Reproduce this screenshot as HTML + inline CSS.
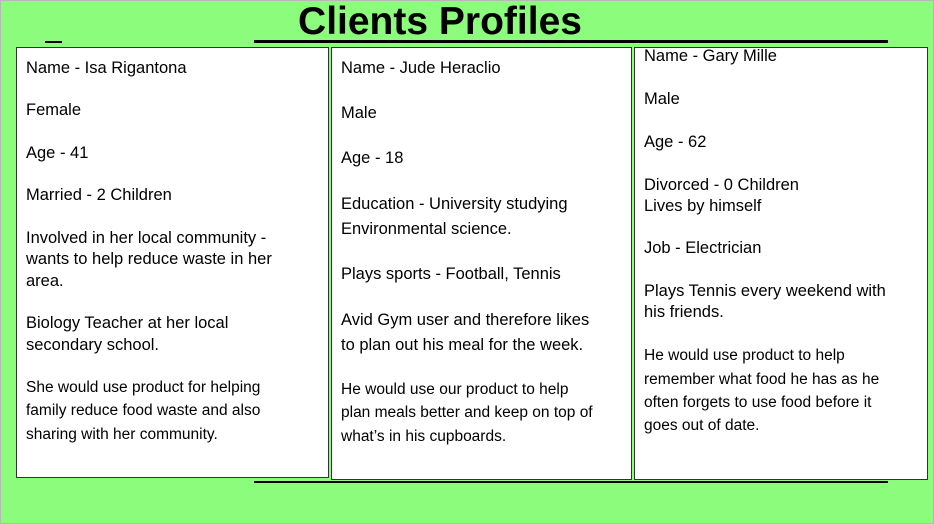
<!DOCTYPE html>
<html><head><meta charset="utf-8"><style>
body{margin:0;width:934px;height:524px;overflow:hidden;font-family:"Liberation Sans",sans-serif}
#slide{position:absolute;left:0;top:0;width:934px;height:524px;background:#8cfc7c}
#frame{position:absolute;left:0;top:0;width:934px;height:524px;box-sizing:border-box;border:1px solid #b8b8b8}
.box{position:absolute;background:#fff;border:1px solid #333;box-sizing:border-box}
.l{position:absolute;white-space:nowrap;font-size:16.5px;line-height:20px;color:#000;transform:translateY(-10px)}
.s{font-size:15.5px}
.rule{position:absolute;background:#000}
</style></head><body>
<div id="slide">
<div id="frame"></div>
<div style="position:absolute;left:0;width:880px;top:-1px;text-align:center;font-weight:bold;font-size:39px;line-height:46px">Clients Profiles</div>
<div class="rule" style="left:45px;top:41px;width:17px;height:2px"></div>
<div class="rule" style="left:254px;top:40px;width:634px;height:3px"></div>
<div class="rule" style="left:254px;top:481px;width:634px;height:2px"></div>

<div class="box" style="left:16px;top:47px;width:313px;height:431px"></div>
<div class="box" style="left:331px;top:47px;width:301px;height:433px"></div>
<div class="box" style="left:634px;top:47px;width:294px;height:433px"></div>

<div>
<div class="l" style="left:26px;top:68px">Name - Isa Rigantona</div>
<div class="l" style="left:26px;top:110px">Female</div>
<div class="l" style="left:26px;top:153px">Age - 41</div>
<div class="l" style="left:26px;top:195px">Married - 2 Children</div>
<div class="l" style="left:26px;top:238px">Involved in her local community -</div>
<div class="l" style="left:26px;top:259px">wants to help reduce waste in her</div>
<div class="l" style="left:26px;top:281px">area.</div>
<div class="l" style="left:26px;top:323px">Biology Teacher at her local</div>
<div class="l" style="left:26px;top:345px">secondary school.</div>
<div class="l s" style="left:26px;top:388px">She would use product for helping</div>
<div class="l s" style="left:26px;top:411px">family reduce food waste and also</div>
<div class="l s" style="left:26px;top:435px">sharing with her community.</div>
</div>

<div>
<div class="l" style="left:341px;top:68px">Name - Jude Heraclio</div>
<div class="l" style="left:341px;top:113px">Male</div>
<div class="l" style="left:341px;top:158px">Age - 18</div>
<div class="l" style="left:341px;top:204px">Education - University studying</div>
<div class="l" style="left:341px;top:229px">Environmental science.</div>
<div class="l" style="left:341px;top:274px">Plays sports - Football, Tennis</div>
<div class="l" style="left:341px;top:320px">Avid Gym user and therefore likes</div>
<div class="l" style="left:341px;top:345px">to plan out his meal for the week.</div>
<div class="l s" style="left:341px;top:390px">He would use our product to help</div>
<div class="l s" style="left:341px;top:413px">plan meals better and keep on top of</div>
<div class="l s" style="left:341px;top:437px">what’s in his cupboards.</div>
</div>

<div>
<div class="l" style="left:644px;top:56px">Name - Gary Mille</div>
<div class="l" style="left:644px;top:99px">Male</div>
<div class="l" style="left:644px;top:142px">Age - 62</div>
<div class="l" style="left:644px;top:185px">Divorced - 0 Children</div>
<div class="l" style="left:644px;top:206px">Lives by himself</div>
<div class="l" style="left:644px;top:248px">Job - Electrician</div>
<div class="l" style="left:644px;top:291px">Plays Tennis every weekend with</div>
<div class="l" style="left:644px;top:312px">his friends.</div>
<div class="l s" style="left:644px;top:356px">He would use product to help</div>
<div class="l s" style="left:644px;top:380px">remember what food he has as he</div>
<div class="l s" style="left:644px;top:403px">often forgets to use food before it</div>
<div class="l s" style="left:644px;top:426px">goes out of date.</div>
</div>
</div>
</body></html>
